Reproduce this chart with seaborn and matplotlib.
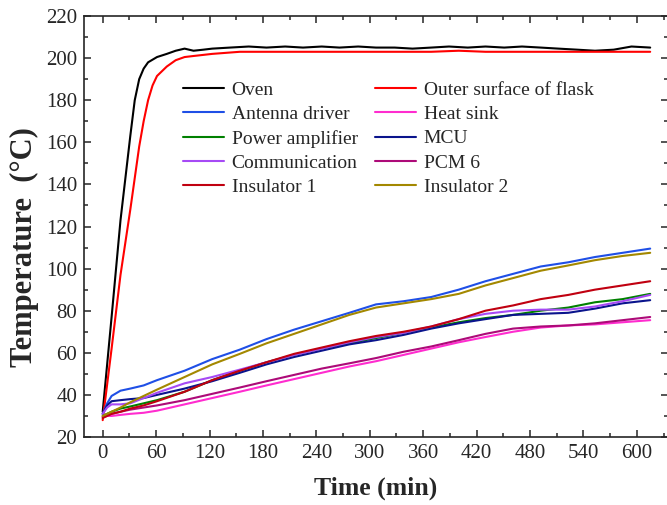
import matplotlib
matplotlib.use('Agg')
import matplotlib.pyplot as plt
from matplotlib.ticker import MultipleLocator
import seaborn as sns

# oven and flask surface (fast heating)
t_oven = [0, 10, 20, 31, 36, 41, 46, 51, 61, 72, 82, 92, 102, 113, 123, 143, 164, 184, 205,
          225, 246, 266, 287, 307, 328, 348, 369, 389, 410, 430, 451, 471, 492, 512, 533,
          553, 574, 594, 615]
oven = [32, 77, 123, 163, 180, 190, 195, 198, 200.5, 202, 203.5, 204.5, 203.5, 204, 204.5,
        205, 205.5, 205, 205.5, 205, 205.5, 205, 205.5, 205, 205, 204.5, 205, 205.5, 205,
        205.5, 205, 205.5, 205, 204.5, 204, 203.5, 204, 205.5, 205]

t_flask = [0, 10, 20, 31, 41, 46, 51, 56, 61, 72, 82, 92, 102, 123, 154, 184, 215, 246, 277,
           307, 338, 369, 400, 430, 461, 492, 523, 553, 584, 615]
flask = [28, 62, 97, 128, 158, 170, 180, 187, 191.5, 196, 199, 200.5, 201, 202, 203, 203, 203,
         203, 203, 203, 203, 203, 203.5, 203, 203, 203, 203, 203, 203, 203]

# components inside the flask
t_low = [0, 5, 10, 20, 31, 46, 61, 92, 123, 154, 184, 215, 246, 277, 307, 338, 369, 400, 430,
         461, 492, 523, 553, 584, 615]
antenna = [31, 36, 39.5, 42, 43, 44.5, 47, 51.5, 57, 61.5, 66.5, 71, 75, 79, 83, 84.5, 86.5,
           90, 94, 97.5, 101, 103, 105.5, 107.5, 109.5]
heat_sink = [29.5, 30, 30, 30.5, 31, 31.5, 32.5, 35.5, 38.5, 41.5, 44.5, 47.5, 50.5, 53.5, 56,
             59, 62, 65, 67.5, 70, 72, 73, 73.5, 74.5, 75.5]
power_amp = [30, 31, 32, 33.5, 34.5, 36, 37.5, 41.5, 47, 51.5, 55.5, 59, 62, 64.5, 67, 69.5,
             72, 74.5, 76.5, 78, 80, 81.5, 84, 85.5, 88]
mcu = [31, 35, 37, 37.5, 38, 38.5, 40, 43, 46.5, 50.5, 54.5, 58, 61, 64, 66, 68.5, 71.5, 74,
       76, 78, 78.5, 79, 81, 83.5, 85]
communication = [31, 34, 35.5, 35.5, 36, 38.5, 41, 45.5, 48.5, 52, 55.5, 59, 62, 65, 67.5,
                 69.5, 72.5, 76, 78.5, 80, 80.5, 80.5, 82, 84.5, 87.5]
pcm6 = [29.5, 30.5, 31, 32, 33, 34, 35, 37.5, 40.5, 43.5, 46.5, 49.5, 52.5, 55, 57.5, 60.5,
        63, 66, 69, 71.5, 72.5, 73, 74, 75.5, 77]
insulator1 = [29, 30, 31, 32, 33.5, 35, 37, 41.5, 47, 51.5, 55.5, 59.5, 62.5, 65.5, 68, 70,
              72.5, 76, 80, 82.5, 85.5, 87.5, 90, 92, 94]
insulator2 = [30, 31, 32, 34, 36.5, 39.5, 42.5, 48.5, 54.5, 59.5, 64.5, 69, 73.5, 78, 81.5,
              83.5, 85.5, 88, 92, 95.5, 99, 101.5, 104, 106, 107.5]

sns.set_style('ticks')
plt.rcParams['font.family'] = ['Liberation Serif', 'DejaVu Serif']

fig = plt.figure(figsize=(6.67, 5.05), dpi=100)
ax = fig.add_axes([84 / 667, 1 - 437 / 505, 584 / 667, 421 / 505])

series = [
    ('Oven', t_oven, oven, 'black'),
    ('Outer surface of flask', t_flask, flask, '#ff0000'),
    ('Antenna driver', t_low, antenna, '#1f4fe6'),
    ('Heat sink', t_low, heat_sink, '#ff2ccf'),
    ('Power amplifier', t_low, power_amp, '#008000'),
    ('MCU', t_low, mcu, '#0a148c'),
    ('Communication', t_low, communication, '#a64af5'),
    ('PCM 6', t_low, pcm6, '#ad0a78'),
    ('Insulator 1', t_low, insulator1, '#c00010'),
    ('Insulator 2', t_low, insulator2, '#a38800'),
]
for name, t, y, c in series:
    sns.lineplot(x=t, y=y, ax=ax, color=c, lw=1.5, label=name)

ax.set_xlim(-21, 635)
ax.set_ylim(20, 220)
ax.xaxis.set_major_locator(MultipleLocator(60))
ax.xaxis.set_minor_locator(MultipleLocator(30))
ax.yaxis.set_major_locator(MultipleLocator(20))
ax.yaxis.set_minor_locator(MultipleLocator(10))
ax.tick_params(which='both', direction='in', top=True, right=True, width=1.1,
               labelsize=15, pad=5)
ax.tick_params(which='major', length=5)
ax.tick_params(which='minor', length=3)
for sp in ax.spines.values():
    sp.set_linewidth(1.2)

ax.set_xlabel('Time (min)', fontsize=18.5, fontweight='bold', labelpad=10)
ax.set_ylabel('Temperature  (°C)', fontsize=22, fontweight='bold', labelpad=5, y=0.45)

# legend filled row by row like the original
handles, labels = ax.get_legend_handles_labels()
order = [0, 2, 4, 6, 8, 1, 3, 5, 7, 9]
ax.legend([handles[i] for i in order], [labels[i] for i in order], ncol=2, frameon=False,
          loc='upper left', bbox_to_anchor=(0.1695, 0.845), borderpad=0, borderaxespad=0,
          fontsize=14, handlelength=2.1, handletextpad=0.4, columnspacing=0.9,
          labelspacing=0.34)

fig.savefig('out.png', dpi=100)
